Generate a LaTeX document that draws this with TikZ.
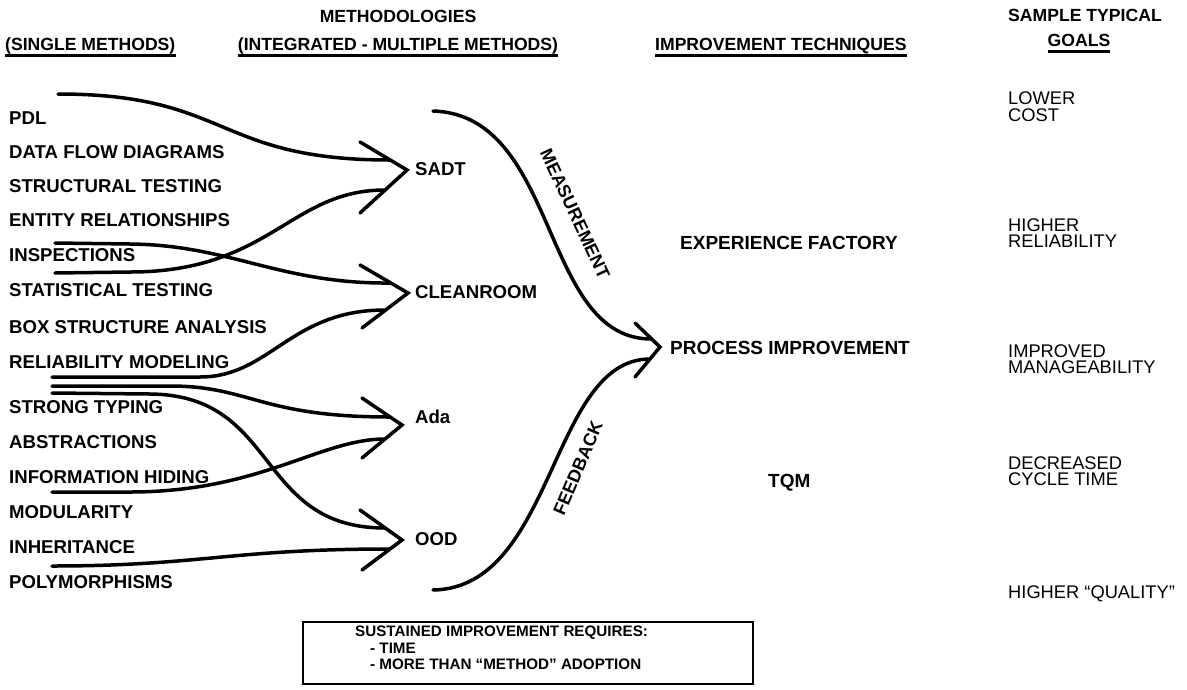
\documentclass[tikz,border=0pt]{standalone}
\usepackage{fontspec}
\setmainfont{Liberation Sans}
\begin{document}
\begin{tikzpicture}[x=1pt,y=-1pt,
  lbl/.style={anchor=west, inner sep=0pt, font=\fontsize{18.6}{20}\selectfont\bfseries, text height=13.3pt, text depth=0pt},
  tech/.style={anchor=west, inner sep=0pt, font=\fontsize{19}{20}\selectfont\bfseries, text height=13.6pt, text depth=0pt},
  hdr/.style={inner sep=0pt, font=\fontsize{17.6}{20}\selectfont\bfseries, text height=12.6pt, text depth=0pt},
  goal/.style={anchor=west, inner sep=0pt, align=left, font=\fontsize{18.3}{16.5}\selectfont},
  curvel/.style={line width=3.5pt, line cap=round, line join=round},
  headl/.style={line width=3.5pt, line cap=round, line join=miter},
  uline/.style={line width=3pt},
  onlbl/.style={inner sep=0pt, font=\fontsize{18}{20}\selectfont\bfseries}
]
\useasboundingbox (0,0) rectangle (1187,689);

% headers
\node[hdr, anchor=west] (hsingle) at (5,44) {(SINGLE METHODS)};
\node[hdr] (hmeth1) at (398,16) {METHODOLOGIES};
\node[hdr] (hmeth2) at (398,44) {(INTEGRATED - MULTIPLE METHODS)};
\node[hdr, anchor=west] (himp) at (655,44) {IMPROVEMENT TECHNIQUES};
\node[hdr] (hgoal1) at (1085,15) {SAMPLE TYPICAL};
\node[hdr] (hgoal2) at (1079,40) {GOALS};
\foreach \h in {hsingle,hmeth2,himp,hgoal2}
  \draw[uline] ([yshift=-5pt]\h.south west) -- ([yshift=-5pt]\h.south east);

% single methods
\foreach \n/\y/\t in {1/118/PDL, 2/152/DATA FLOW DIAGRAMS, 3/186/STRUCTURAL TESTING,
  4/220/ENTITY RELATIONSHIPS, 5/255/INSPECTIONS, 6/290/STATISTICAL TESTING,
  7/327/BOX STRUCTURE ANALYSIS, 8/362/RELIABILITY MODELING, 9/407/STRONG TYPING,
  10/442/ABSTRACTIONS, 11/477/INFORMATION HIDING, 12/512/MODULARITY,
  13/547/INHERITANCE, 14/582/POLYMORPHISMS}
  \node[lbl] (m\n) at (9,\y) {\t};

% methodologies
\node[lbl] (sadt) at (415,169) {SADT};
\node[lbl] (clean) at (415,292) {CLEANROOM};
\node[lbl] (ada) at (415,417) {Ada};
\node[lbl] (ood) at (415,539) {OOD};

% improvement techniques
\node[tech] (expf) at (680,243) {EXPERIENCE FACTORY};
\node[tech] (proc) at (670,348) {PROCESS IMPROVEMENT};
\node[tech] (tqm) at (768,481) {TQM};

% goals
\node[goal] (g1) at (1008,106.5) {LOWER\\COST};
\node[goal] (g2) at (1008,233) {HIGHER\\RELIABILITY};
\node[goal] (g3) at (1008,359) {IMPROVED\\MANAGEABILITY};
\node[goal] (g4) at (1008,471) {DECREASED\\CYCLE TIME};
\node[goal] (g5) at (1008,594) {HIGHER “QUALITY”};

% arrowheads
\coordinate (sadtT) at (407,170); \coordinate (sadtU) at (360,142); \coordinate (sadtL) at (360,213);
\coordinate (cleanT) at (408,293); \coordinate (cleanU) at (360,265); \coordinate (cleanL) at (362,328);
\coordinate (adaT) at (402,425); \coordinate (adaU) at (362,398); \coordinate (adaL) at (362,458);
\coordinate (oodT) at (402,540); \coordinate (oodU) at (360,510); \coordinate (oodL) at (362,570);
\coordinate (procT) at (660,347); \coordinate (procU) at (635,323); \coordinate (procL) at (635,377);
\foreach \k in {sadt,clean,ada,ood,proc}
  \draw[headl] (\k U) -- (\k T) -- (\k L);

% curve starts and ends
\coordinate (a0) at (58,94);   \coordinate (aE) at (390,160);
\coordinate (b0) at (55,273);  \coordinate (bE) at (385,190);
\coordinate (c0) at (55,243);  \coordinate (cE) at (390,283);
\coordinate (d0) at (52,377);  \coordinate (dE) at (385,310);
\coordinate (e0) at (52,386);  \coordinate (eE) at (390,417);
\coordinate (f0) at (52,393);  \coordinate (fE) at (385,528);
\coordinate (g0) at (52,492);  \coordinate (gE) at (385,439);
\coordinate (h0) at (52,566);  \coordinate (hE) at (390,549);
\coordinate (ms) at (433,111); \coordinate (mE) at (652,339);
\coordinate (fs) at (433,590); \coordinate (fbE) at (650,359);

\draw[curvel] (a0) .. controls (230,94) and (215,160) .. (aE);
\draw[curvel] (b0) -- (130,272) .. controls (270,272) and (290,190) .. (bE);
\draw[curvel] (c0) -- (130,244) .. controls (230,245) and (280,284) .. (cE);
\draw[curvel] (d0) -- (200,377) .. controls (270,377) and (290,310) .. (dE);
\draw[curvel] (e0) -- (170,386) .. controls (250,386) and (260,417) .. (eE);
\draw[curvel] (f0) -- (150,394) .. controls (280,395) and (255,528) .. (fE);
\draw[curvel] (g0) -- (130,492) .. controls (260,492) and (320,439) .. (gE);
\draw[curvel] (h0) .. controls (200,566) and (230,549) .. (hE);
\draw[curvel] (ms) .. controls (560,115) and (540,340) .. (mE);
\draw[curvel] (fs) .. controls (555,588) and (550,359) .. (fbE);

\node[onlbl, rotate=-65] (meas) at (575,214) {MEASUREMENT};
\node[onlbl, rotate=67] (feed) at (578,468) {FEEDBACK};

% bottom box
\node[draw, line width=2.5pt, minimum width=450pt, minimum height=62pt, inner sep=0pt] (box) at (528,653) {};
\node[anchor=north west, align=left, inner sep=0pt, font=\fontsize{15.2}{16.5}\selectfont\bfseries] (boxtxt) at (355,626)
  {SUSTAINED IMPROVEMENT REQUIRES:\\\hspace*{15pt}- TIME\\\hspace*{15pt}- MORE THAN “METHOD” ADOPTION};
\end{tikzpicture}
\end{document}
